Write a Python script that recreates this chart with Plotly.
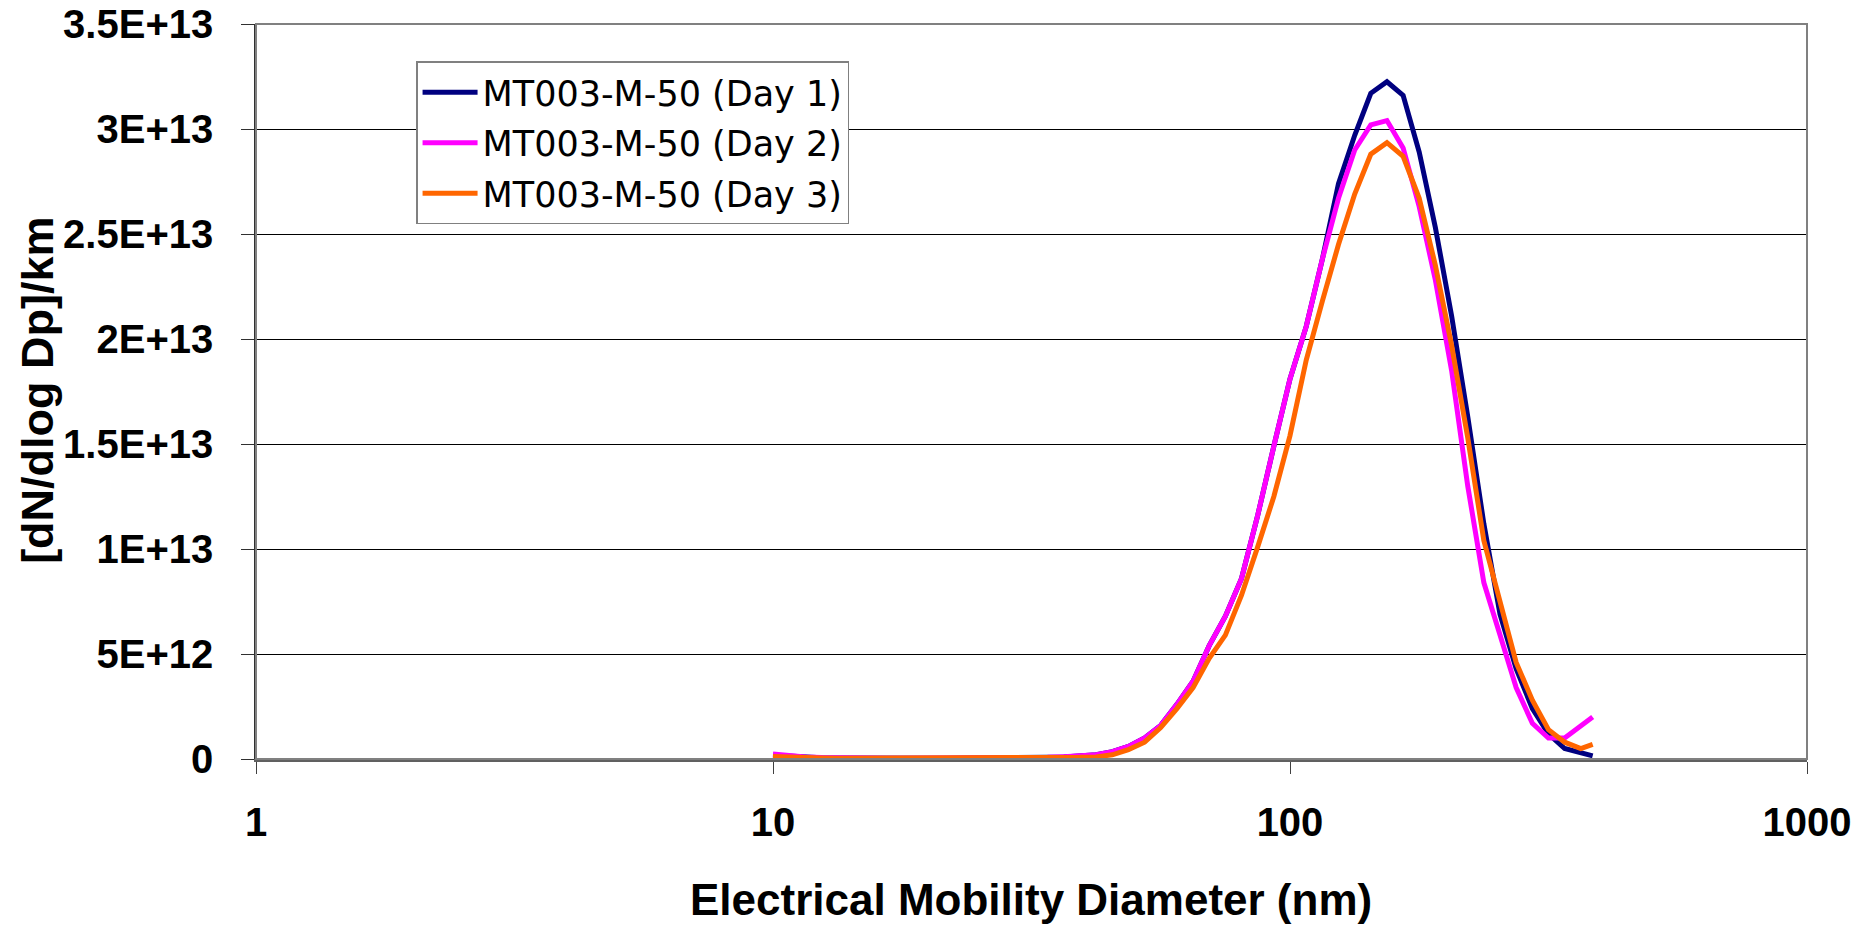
import plotly.graph_objects as go

# Electrical mobility diameter (nm)
diameter_nm = [10.00, 10.75, 11.55, 12.41, 13.34, 14.33, 15.40, 16.55, 17.78, 19.11,
               20.54, 22.07, 23.71, 25.48, 27.38, 29.43, 31.62, 33.98, 36.52, 39.24,
               42.17, 45.32, 48.70, 52.33, 56.23, 60.43, 64.94, 69.78, 74.99, 80.58,
               86.60, 93.06, 100.0, 107.5, 115.5, 124.1, 133.4, 143.3, 154.0, 165.5,
               177.8, 191.1, 205.4, 220.7, 237.1, 254.8, 273.8, 294.3, 316.2, 339.8,
               365.2, 385.0]

# [dN/dlog Dp]/km, in units of 1E+13
day1 = [0.018, 0.012, 0.008, 0.006, 0.005, 0.004, 0.004, 0.004, 0.004, 0.004,
        0.004, 0.004, 0.004, 0.004, 0.005, 0.005, 0.006, 0.008, 0.010, 0.014,
        0.020, 0.035, 0.060, 0.100, 0.160, 0.260, 0.370, 0.540, 0.680, 0.860,
        1.160, 1.490, 1.810, 2.060, 2.380, 2.740, 2.970, 3.170, 3.225, 3.160,
        2.890, 2.530, 2.110, 1.630, 1.120, 0.690, 0.430, 0.240, 0.120, 0.050,
        0.030, 0.015]
day2 = [0.024, 0.016, 0.010, 0.007, 0.005, 0.005, 0.004, 0.004, 0.004, 0.004,
        0.004, 0.004, 0.004, 0.004, 0.005, 0.005, 0.006, 0.008, 0.011, 0.015,
        0.020, 0.035, 0.060, 0.100, 0.160, 0.260, 0.370, 0.540, 0.680, 0.860,
        1.160, 1.490, 1.810, 2.060, 2.380, 2.670, 2.900, 3.020, 3.040, 2.910,
        2.630, 2.280, 1.850, 1.300, 0.840, 0.590, 0.340, 0.170, 0.100, 0.100,
        0.160, 0.200]
day3 = [0.012, 0.008, 0.006, 0.005, 0.004, 0.004, 0.004, 0.004, 0.004, 0.004,
        0.004, 0.004, 0.004, 0.004, 0.004, 0.004, 0.005, 0.005, 0.006, 0.008,
        0.010, 0.020, 0.045, 0.080, 0.150, 0.240, 0.340, 0.480, 0.590, 0.780,
        1.010, 1.250, 1.540, 1.900, 2.180, 2.450, 2.690, 2.880, 2.935, 2.870,
        2.670, 2.350, 1.970, 1.530, 1.040, 0.740, 0.460, 0.280, 0.140, 0.080,
        0.050, 0.070]

series_names = ["MT003-M-50 (Day 1)", "MT003-M-50 (Day 2)", "MT003-M-50 (Day 3)"]
series_colors = ["#000080", "#FF00FF", "#FF6600"]

y_tickvals = [0, 5e12, 1e13, 1.5e13, 2e13, 2.5e13, 3e13, 3.5e13]
y_ticktext = ["0", "5E+12", "1E+13", "1.5E+13", "2E+13", "2.5E+13", "3E+13", "3.5E+13"]
x_tickvals = [1, 10, 100, 1000]
x_ticktext = ["1", "10", "100", "1000"]

fig = go.Figure()
for i, (name, vals, col) in enumerate(zip(series_names, [day1, day2, day3], series_colors)):
    fig.add_trace(go.Scatter(
        x=diameter_nm, y=[v * 1e13 for v in vals], mode="lines", name=name,
        legendgroup=f"g{i}",
        line=dict(color=col, width=5),
    ))

FONT = "Liberation Sans, Arial, sans-serif"

fig.update_layout(
    width=1870, height=928,
    margin=dict(l=256, r=63, t=24, b=169, autoexpand=False),
    paper_bgcolor="white", plot_bgcolor="white",
    showlegend=True,
    legend=dict(
        x=0.1032, y=0.949, xanchor="left", yanchor="top",
        bgcolor="white", bordercolor="#808080", borderwidth=1.5,
        font=dict(family="DejaVu Sans", size=35, color="black"),
        itemwidth=55, tracegroupgap=2, traceorder="grouped",
    ),
    xaxis=dict(
        type="log", range=[0, 3], automargin=False,
        tickvals=x_tickvals, ticktext=x_ticktext,
        showgrid=False, zeroline=False,
        showline=True, linecolor="#606060", linewidth=2.5,
        ticks="outside", ticklen=12, tickcolor="#404040", tickwidth=1,
        tickfont=dict(family=FONT, size=40, color="black", weight="bold"),
        ticklabelstandoff=14,
    ),
    yaxis=dict(
        range=[0, 3.5e13], automargin=False,
        tickvals=y_tickvals, ticktext=y_ticktext,
        showgrid=True, gridcolor="black", gridwidth=1,
        zeroline=False,
        showline=True, linecolor="#303030", linewidth=1.5,
        ticks="outside", ticklen=13, tickcolor="#303030", tickwidth=1,
        tickfont=dict(family=FONT, size=40, color="black", weight="bold"),
        ticklabelstandoff=20,
    ),
    shapes=[dict(type="rect", xref="paper", yref="paper", x0=0, y0=0, x1=1, y1=1,
                 line=dict(color="#808080", width=2), layer="above")],
    annotations=[
        dict(text="Electrical Mobility Diameter (nm)", xref="paper", yref="paper",
             x=0.4995, y=-0.1918, xanchor="center", yanchor="middle", showarrow=False,
             font=dict(family=FONT, size=44, color="black", weight="bold")),
        dict(text="[dN/dlog Dp]/km", xref="paper", yref="paper", textangle=-90,
             x=-0.1413, y=0.502, xanchor="center", yanchor="middle", showarrow=False,
             font=dict(family=FONT, size=45, color="black", weight="bold")),
    ],
)

fig.write_html("out.html")
